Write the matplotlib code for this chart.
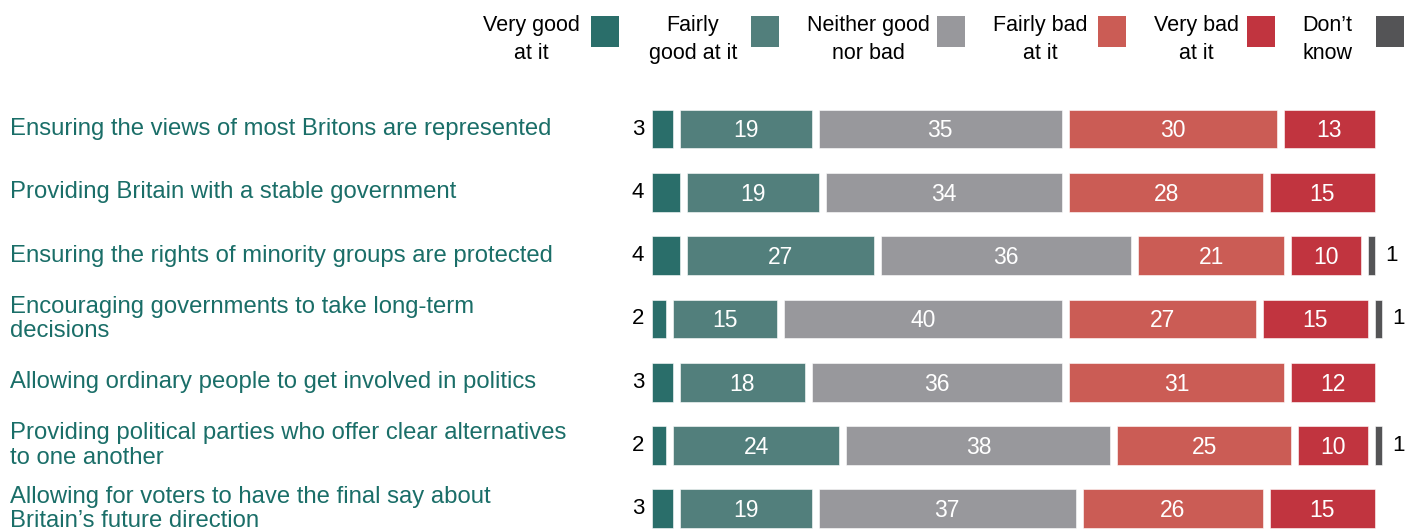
import matplotlib
matplotlib.use("Agg")
import matplotlib.pyplot as plt
from matplotlib.patches import Rectangle
from matplotlib.transforms import blended_transform_factory

plt.rcParams['font.family'] = ['Liberation Sans', 'DejaVu Sans']

statements = [
    "Ensuring the views of most Britons are represented",
    "Providing Britain with a stable government",
    "Ensuring the rights of minority groups are protected",
    "Encouraging governments to take long-term\ndecisions",
    "Allowing ordinary people to get involved in politics",
    "Providing political parties who offer clear alternatives\nto one another",
    "Allowing for voters to have the final say about\nBritain\u2019s future direction",
]

answers = ["Very good\nat it", "Fairly\ngood at it", "Neither good\nnor bad",
           "Fairly bad\nat it", "Very bad\nat it", "Don\u2019t\nknow"]
colors = ["#2a6e6a", "#527f7c", "#98989c", "#cb5c55", "#c1343f", "#545456"]

very_good = [3, 4, 4, 2, 3, 2, 3]
fairly_good = [19, 19, 27, 15, 18, 24, 19]
neither = [35, 34, 36, 40, 36, 38, 37]
fairly_bad = [30, 28, 21, 27, 31, 25, 26]
very_bad = [13, 15, 10, 15, 12, 10, 15]
dont_know = [0, 0, 1, 1, 0, 1, 0]

series = [very_good, fairly_good, neither, fairly_bad, very_bad, dont_know]

gap = 1.0
label_teal = "#1a6e68"

fig = plt.figure(figsize=(14.1, 5.3), dpi=100)
ax = fig.add_axes([0, 0, 1, 1])
ax.set_xlim(-93.8, 109.1)
ax.set_ylim(6.335, -2.04)
ax.axis("off")

for i, name in enumerate(statements):
    left = 0.0
    for k, vals in enumerate(series):
        v = vals[i]
        if v == 0:
            continue
        ax.barh(i, v, left=left, height=0.61, color=colors[k],
                edgecolor="white", linewidth=0.4)
        cx = left + v / 2
        if k == 0 and v < 5:
            ax.text(left - 1.1, i, str(v), ha="right", va="center",
                    fontsize=16, color="black")
        elif k == 5:
            ax.text(left + v + 1.6, i, str(v), ha="left", va="center",
                    fontsize=16, color="black")
        else:
            ax.text(cx, i + 0.03, str(v), ha="center", va="center",
                    fontsize=16.5, color="white")
        left += v + gap

trans = blended_transform_factory(ax.transAxes, ax.transData)
for i, name in enumerate(statements):
    ax.text(10 / 1410, i + 0.0, name, transform=trans, ha="left", va="center",
            fontsize=17.2, color=label_teal, linespacing=1.12)

# legend drawn across the top
text_x = [531, 693, 868, 1040, 1196, 1327]
box_x = [591, 751, 937, 1098, 1247, 1376]
for k, lab in enumerate(answers):
    fig.text(text_x[k] / 1410, 1 - 39.5 / 530, lab, ha="center", va="center",
             fontsize=15.5, multialignment="center", linespacing=1.45)
    fig.add_artist(Rectangle((box_x[k] / 1410, 1 - 47 / 530), 28 / 1410, 31 / 530,
                             transform=fig.transFigure, color=colors[k], lw=0))

fig.savefig("out.png", dpi=100)
